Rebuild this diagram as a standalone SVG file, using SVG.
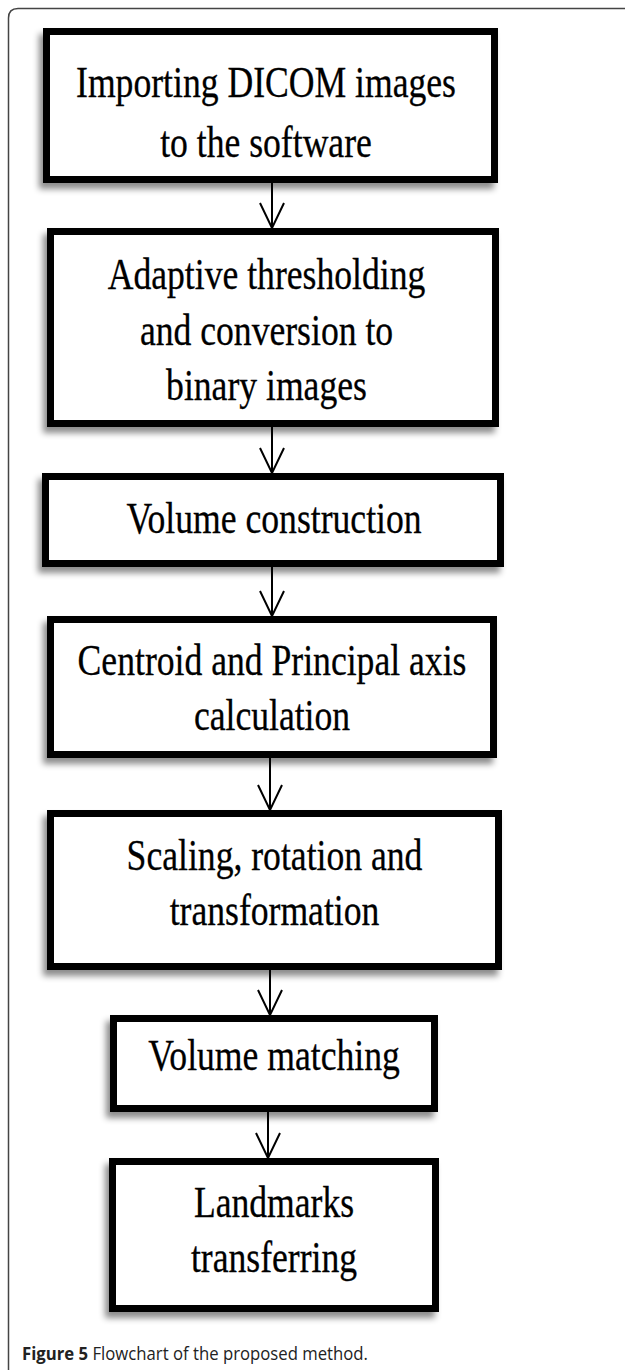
<svg xmlns="http://www.w3.org/2000/svg" width="625" height="1370" viewBox="0 0 625 1370">
<style>
.box{fill:#fff;stroke:#000;stroke-width:7;filter:url(#sh)}
.t{font-family:"Liberation Serif","Times New Roman",serif;font-size:44px;fill:#000;stroke:#000;stroke-width:0.3;text-anchor:middle}
.conn{stroke:#000;stroke-width:2;fill:none;marker-end:url(#arr)}
.cap{font-family:"Open Sans","Liberation Sans",sans-serif;font-size:18.5px;fill:#222}
</style>
<defs>
<filter id="sh" x="-10%" y="-10%" width="120%" height="130%">
<feDropShadow dx="-4" dy="6" stdDeviation="3" flood-color="#000" flood-opacity="0.45"/>
</filter>
<marker id="arr" markerUnits="userSpaceOnUse" viewBox="-28 -14 30 28" markerWidth="30" markerHeight="28" refX="0" refY="0" orient="auto">
<path d="M-25,-12 L0,0 L-25,12" fill="none" stroke="#000" stroke-width="2"/>
</marker>
</defs>
<rect width="625" height="1370" fill="#fff"/>
<path d="M8.5,1370 V18 Q8.5,8.5 18,8.5 H625" fill="none" stroke="#444" stroke-width="1.5"/>

<g id="connectors">
<path class="conn" d="M272,183 V228"/>
<path class="conn" d="M272,427 V473"/>
<path class="conn" d="M272,567 V616"/>
<path class="conn" d="M270,758 V810"/>
<path class="conn" d="M270,970 V1015"/>
<path class="conn" d="M268,1112 V1158"/>
</g>

<g id="n1">
<rect class="box" x="46.5" y="31.5" width="448" height="148"/>
<g transform="translate(266,0) scale(0.81,1)">
<text class="t" x="0" y="97">Importing DICOM images</text>
<text class="t" x="0" y="157">to the software</text>
</g>
</g>

<g id="n2">
<rect class="box" x="50.5" y="231.5" width="445" height="192"/>
<g transform="translate(266.5,0) scale(0.81,1)">
<text class="t" x="0" y="289">Adaptive thresholding</text>
<text class="t" x="0" y="345">and conversion to</text>
<text class="t" x="0" y="400">binary images</text>
</g>
</g>

<g id="n3">
<rect class="box" x="45.5" y="476.5" width="455" height="87"/>
<g transform="translate(274,0) scale(0.81,1)">
<text class="t" x="0" y="533">Volume construction</text>
</g>
</g>

<g id="n4">
<rect class="box" x="50.5" y="619.5" width="443" height="135"/>
<g transform="translate(272,0) scale(0.81,1)">
<text class="t" x="0" y="675">Centroid and Principal axis</text>
<text class="t" x="0" y="730">calculation</text>
</g>
</g>

<g id="n5">
<rect class="box" x="50.5" y="813.5" width="448" height="153"/>
<g transform="translate(274.5,0) scale(0.81,1)">
<text class="t" x="0" y="870">Scaling, rotation and</text>
<text class="t" x="0" y="925">transformation</text>
</g>
</g>

<g id="n6">
<rect class="box" x="113.5" y="1018.5" width="321" height="90"/>
<g transform="translate(274,0) scale(0.81,1)">
<text class="t" x="0" y="1070">Volume matching</text>
</g>
</g>

<g id="n7">
<rect class="box" x="112.5" y="1161.5" width="323" height="147"/>
<g transform="translate(274,0) scale(0.81,1)">
<text class="t" x="0" y="1217">Landmarks</text>
<text class="t" x="0" y="1272">transferring</text>
</g>
</g>

<text class="cap" x="22" y="1360" textLength="346" lengthAdjust="spacingAndGlyphs"><tspan font-weight="bold">Figure 5</tspan> Flowchart of the proposed method.</text>
</svg>
